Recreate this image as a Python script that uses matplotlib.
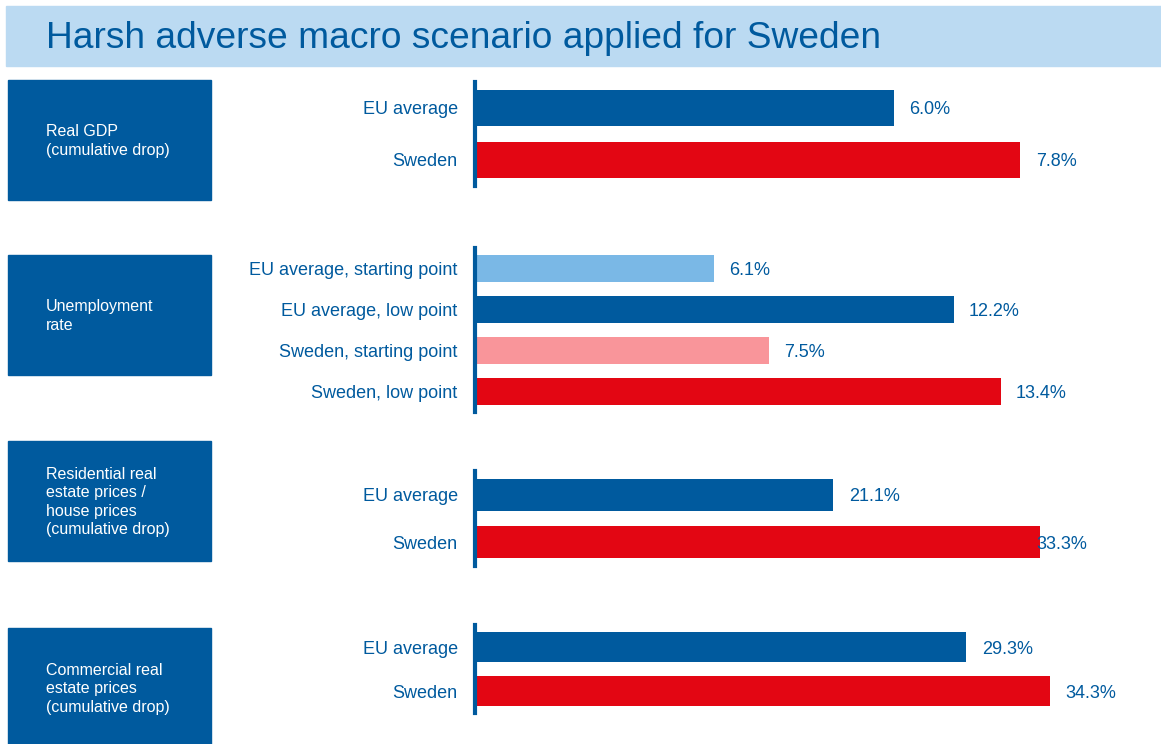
import matplotlib.pyplot as plt
from matplotlib.patches import Rectangle

# data
title = 'Harsh adverse macro scenario applied for Sweden'
panel_names = ['Real GDP\n(cumulative drop)',
               'Unemployment\nrate',
               'Residential real\nestate prices /\nhouse prices\n(cumulative drop)',
               'Commercial real\nestate prices\n(cumulative drop)']
gdp_labels = ['EU average', 'Sweden']
gdp_values = [6.0, 7.8]
unemp_labels = ['EU average, starting point', 'EU average, low point',
                'Sweden, starting point', 'Sweden, low point']
unemp_values = [6.1, 12.2, 7.5, 13.4]
resid_labels = ['EU average', 'Sweden']
resid_values = [21.1, 33.3]
comm_labels = ['EU average', 'Sweden']
comm_values = [29.3, 34.3]

DARK = '#005A9E'
RED = '#E30613'
LIGHT = '#7AB8E6'
PINK = '#F9959A'
BAND = '#BBDAF2'

W, H = 1161, 744
plt.rcParams['font.family'] = ['Liberation Sans', 'DejaVu Sans']
fig = plt.figure(figsize=(W / 100, H / 100), dpi=100)


def rect(x0, y0, x1, y1):
    # pixel box (top-left origin) -> figure fraction
    return [x0 / W, 1 - y1 / H, (x1 - x0) / W, (y1 - y0) / H]


# title band
fig.patches.append(Rectangle((6 / W, 1 - 66 / H), (W - 6) / W, 60 / H,
                             transform=fig.transFigure, color=BAND, zorder=0))
fig.text(46 / W, 1 - 38 / H, title, fontsize=26.7, color=DARK, va='center', ha='left')

# panels: (labels, values, colors, axis top, pitch, box top, xmax, label pad)
panels = [
    (gdp_labels, gdp_values, [DARK, RED], 82, 52, 80, 9.66, [15, 16]),
    (unemp_labels, unemp_values, [LIGHT, DARK, PINK, RED], 248, 41, 255, 17.2, [15, 15, 15, 15]),
    (resid_labels, resid_values, [DARK, RED], 471, 47.5, 441, 39.8, [16, -3]),
    (comm_labels, comm_values, [DARK, RED], 625, 44, 628, 40.3, [16, 16]),
]

for name, (labels, values, colors, top, pitch, box_top, xmax, pads) in zip(panel_names, panels):
    # left box with the indicator name
    fig.patches.append(Rectangle((8 / W, 1 - (box_top + 120) / H), 203 / W, 120 / H,
                                 transform=fig.transFigure, color=DARK, zorder=0))
    fig.text(46 / W, 1 - (box_top + 61) / H, name, fontsize=11.5, color='white',
             va='center', ha='left', linespacing=1.3)

    n = len(values)
    ax = fig.add_axes(rect(475, top, 1150, top + n * pitch))
    pos = list(range(n))
    ax.barh(pos, values, height=0.68, color=colors, zorder=1)
    ax.set_xlim(0, xmax)
    ax.set_ylim(n - 0.5, -0.5)
    ax.set_yticks(pos)
    ax.set_yticklabels(labels, fontsize=13, color=DARK)
    ax.tick_params(axis='y', length=0, pad=12.5)
    ax.set_xticks([])
    for s in ['top', 'right', 'bottom']:
        ax.spines[s].set_visible(False)
    ax.spines['left'].set_color(DARK)
    ax.spines['left'].set_linewidth(3)
    ax.spines['left'].set_zorder(3)
    ax.patch.set_alpha(0)
    for p, v, off in zip(pos, values, pads):
        ax.annotate(f'{v:.1f}%', xy=(v, p), xytext=(off * 0.72, 0),
                    textcoords='offset points', va='center_baseline', ha='left',
                    fontsize=13, color=DARK)

fig.savefig('out.png', dpi=100)
